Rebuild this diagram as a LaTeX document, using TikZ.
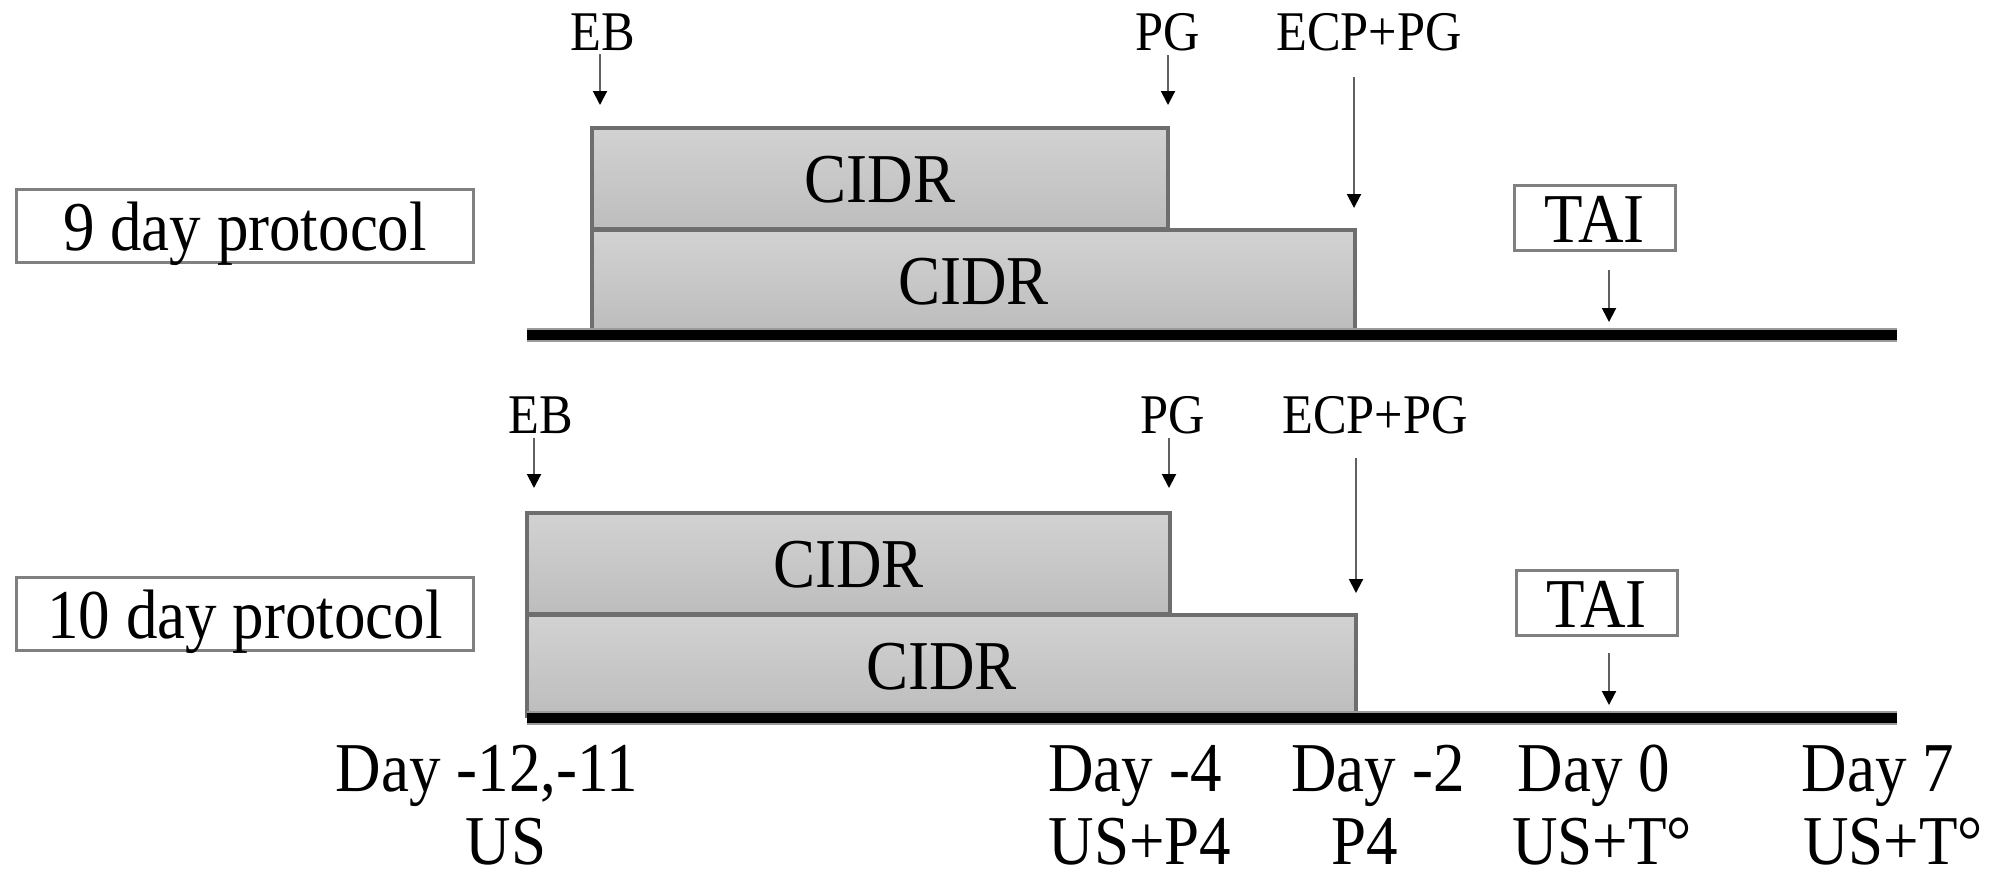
\documentclass[tikz,border=0pt]{standalone}
\usepackage{fontspec}
\setmainfont{Liberation Serif}[FakeStretch=0.9]
\usetikzlibrary{arrows.meta}
\definecolor{boxline}{HTML}{6E6E6E}
\definecolor{frameline}{HTML}{808080}
\definecolor{filltop}{HTML}{D2D2D2}
\definecolor{fillbot}{HTML}{BDBDBD}
\definecolor{arrline}{HTML}{606060}
\definecolor{halo}{HTML}{9A9A9A}
\tikzset{
  bigtxt/.style={inner sep=0pt, anchor=base, font=\fontsize{35bp}{42bp}\selectfont},
  smalltxt/.style={inner sep=0pt, anchor=base, font=\fontsize{28bp}{34bp}\selectfont},
  cidrbox/.style={bigtxt, draw=boxline, line width=2bp, top color=filltop, bottom color=fillbot,
    text height=37bp, text depth=13.5bp},
  protobox/.style={bigtxt, draw=frameline, line width=1.5bp, fill=white,
    minimum width=228bp, text height=30.5bp, text depth=6bp},
  taibox/.style={bigtxt, draw=frameline, line width=1.5bp, fill=white,
    minimum width=80.5bp, text height=28.5bp, text depth=4bp},
  arr/.style={draw=arrline, line width=1bp, -{Triangle[length=7bp,width=7bp,color=black]}},
  timeline/.style={line width=5bp, draw=black},
  timehalo/.style={line width=7bp, draw=halo},
}
\begin{document}
\begin{tikzpicture}[x=0.5bp,y=-0.5bp]
\useasboundingbox (0,0) rectangle (2000,871);

% ---------- 9 day protocol ----------
\node[protobox] (p9) at (245,250) {9 day protocol};
\coordinate (t9l) at (527,335);
\coordinate (t9r) at (1897,335);
\node[cidrbox, minimum width=381.5bp] (c9b) at (973.5,304) {CIDR};
\node[cidrbox, minimum width=288bp] (c9a) at (880,202) {CIDR};
\draw[timehalo] (t9l) -- (t9r);
\draw[timeline] (t9l) -- (t9r);

\node[smalltxt] (eb9) at (603,50) {EB};
\coordinate (eb9s) at (600,54);
\coordinate (eb9e) at (600,105);
\draw[arr] (eb9s) -- (eb9e);

\node[smalltxt] (pg9) at (1168,50) {PG};
\coordinate (pg9s) at (1168,55);
\coordinate (pg9e) at (1168,105);
\draw[arr] (pg9s) -- (pg9e);

\node[smalltxt] (ecp9) at (1369,50) {ECP+PG};
\coordinate (ecp9s) at (1354,77);
\coordinate (ecp9e) at (1354,208);
\draw[arr] (ecp9s) -- (ecp9e);

\node[taibox] (tai9) at (1594.5,242) {TAI};
\coordinate (tai9s) at (1609,270);
\coordinate (tai9e) at (1609,322);
\draw[arr] (tai9s) -- (tai9e);

% ---------- 10 day protocol ----------
\node[protobox] (p10) at (245,638) {10 day protocol};
\coordinate (t10l) at (527,718);
\coordinate (t10r) at (1897,718);
\node[cidrbox, minimum width=414.5bp] (c10b) at (941.5,689) {CIDR};
\node[cidrbox, minimum width=321.5bp] (c10a) at (848.5,587) {CIDR};
\draw[timehalo] (t10l) -- (t10r);
\draw[timeline] (t10l) -- (t10r);

\node[smalltxt] (eb10) at (541,433) {EB};
\coordinate (eb10s) at (534,438);
\coordinate (eb10e) at (534,488);
\draw[arr] (eb10s) -- (eb10e);

\node[smalltxt] (pg10) at (1173,433) {PG};
\coordinate (pg10s) at (1169,438);
\coordinate (pg10e) at (1169,488);
\draw[arr] (pg10s) -- (pg10e);

\node[smalltxt] (ecp10) at (1375,433) {ECP+PG};
\coordinate (ecp10s) at (1356,458);
\coordinate (ecp10e) at (1356,593);
\draw[arr] (ecp10s) -- (ecp10e);

\node[taibox] (tai10) at (1596.5,627) {TAI};
\coordinate (tai10s) at (1609,653);
\coordinate (tai10e) at (1609,705);
\draw[arr] (tai10s) -- (tai10e);

% ---------- day labels ----------
\node[bigtxt] (d1a) at (487,791) {Day -12,-11};
\node[bigtxt] (d1b) at (506,864) {US};
\node[bigtxt] (d2a) at (1135,791) {Day -4};
\node[bigtxt] (d2b) at (1140,864) {US+P4};
\node[bigtxt] (d3a) at (1378,791) {Day -2};
\node[bigtxt] (d3b) at (1365,864) {P4};
\node[bigtxt] (d4a) at (1594,791) {Day 0};
\node[bigtxt] (d4b) at (1602,864) {US+T°};
\node[bigtxt] (d5a) at (1878,791) {Day 7};
\node[bigtxt] (d5b) at (1893,864) {US+T°};
\end{tikzpicture}
\end{document}
